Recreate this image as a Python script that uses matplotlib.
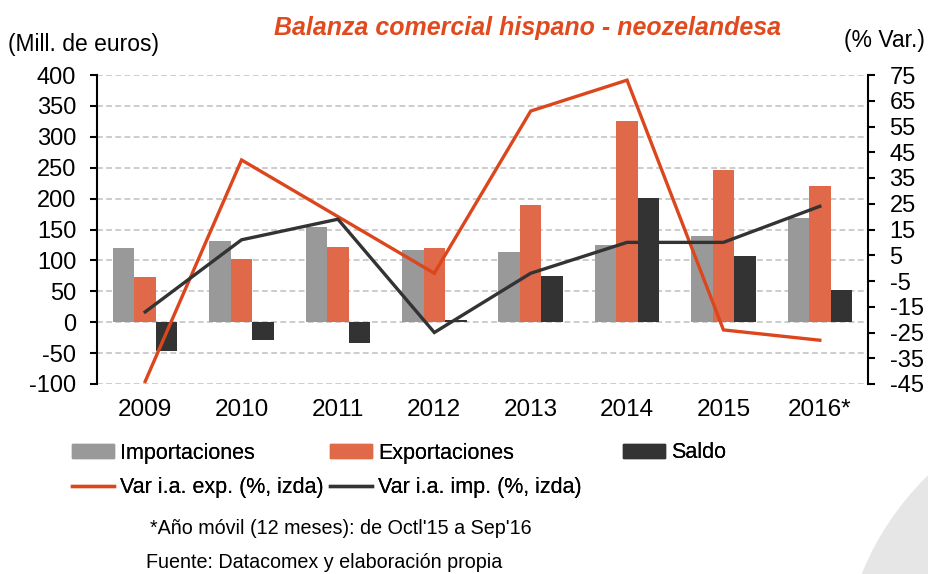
import numpy as np
import matplotlib
matplotlib.use("Agg")
import matplotlib.pyplot as plt
from matplotlib.patches import Circle, Patch
from matplotlib.lines import Line2D

plt.rcParams['font.family'] = ['Liberation Sans', 'DejaVu Sans']
plt.rcParams['axes.unicode_minus'] = False

# -----------------------------
# Data
# -----------------------------
years = ["2009", "2010", "2011", "2012", "2013", "2014", "2015", "2016*"]
importaciones = [120, 131, 154, 117, 114, 125, 140, 169]
exportaciones = [73, 102, 122, 120, 189, 326, 247, 221]
saldo = [-47, -29, -34, 3, 75, 201, 107, 52]
var_exp = [-44, 42, 20, -2, 61, 73, -24, -28]
var_imp = [-17, 11, 19, -25, -2, 10, 10, 24]

# -----------------------------
# Styles
# -----------------------------
C_IMP = "#999999"
C_EXP = "#E0694A"
C_SALDO = "#333333"
C_LINE_EXP = "#DC461C"
C_LINE_IMP = "#333333"
C_TITLE = "#E04A1E"

fig = plt.figure(figsize=(9.29, 5.74), dpi=100)
ax = fig.add_axes([97 / 929, 1 - 384 / 574, 771 / 929, 309 / 574])
ax2 = ax.twinx()

x = np.arange(len(years))
w = 0.223

ax.set_axisbelow(True)
for v in np.arange(-100, 401, 50):
    ax.axhline(v, color="#C4C4C4", lw=1.2, ls=(0, (3.5, 2)), zorder=0)

ax.bar(x - w, importaciones, w, color=C_IMP, zorder=2)
ax.bar(x, exportaciones, w, color=C_EXP, zorder=2)
ax.bar(x + w, saldo, w, color=C_SALDO, zorder=2)

ax2.plot(x, var_exp, color=C_LINE_EXP, lw=2.4, solid_joinstyle="miter")
ax2.plot(x, var_imp, color=C_LINE_IMP, lw=2.4, solid_joinstyle="miter")

ax.set_xlim(-0.5, len(years) - 0.5)
ax.set_ylim(-100, 400)
ax.set_yticks(np.arange(-100, 401, 50))
ax2.set_ylim(-45, 75)
ax2.set_yticks(np.arange(-45, 76, 10))

ax.set_xticks(x)
ax.set_xticklabels(years)

for a in (ax, ax2):
    for s in ("top", "bottom"):
        a.spines[s].set_visible(False)
ax.spines["right"].set_visible(False)
ax2.spines["left"].set_visible(False)
ax.spines["left"].set_linewidth(1.5)
ax2.spines["right"].set_linewidth(1.5)

ax.tick_params(axis="y", labelsize=17, length=5, width=1.5, pad=10)
ax2.tick_params(axis="y", labelsize=17, length=5, width=1.5, pad=10.5)
ax.tick_params(axis="x", labelsize=17.5, length=0, pad=11)

fig.text(527 / 929, 1 - 28 / 574, "Balanza comercial hispano - neozelandesa",
         color=C_TITLE, fontsize=18, fontweight="bold", style="italic",
         ha="center", va="center")
fig.text(8 / 929, 1 - 45 / 574, "(Mill. de euros)", fontsize=16.5,
         ha="left", va="center")
fig.text(925 / 929, 1 - 41 / 574, "(% Var.)", fontsize=16.5,
         ha="right", va="center")

# -----------------------------
# Legend, one entry per slot
# -----------------------------
entries = [
    (Patch(color=C_IMP), "Importaciones", 72, 453),
    (Patch(color=C_EXP), "Exportaciones", 330, 453),
    (Patch(color=C_SALDO), "Saldo", 623, 453),
    (Line2D([], [], color=C_LINE_EXP, lw=2.4), "Var i.a. exp. (%, izda)", 72, 488),
    (Line2D([], [], color=C_LINE_IMP, lw=2.4), "Var i.a. imp. (%, izda)", 330, 488),
]
for handle, label, px, py in entries:
    leg = fig.legend([handle], [label], loc="center left",
                     bbox_to_anchor=(px / 929, 1 - py / 574),
                     frameon=False, fontsize=15.5, handlelength=1.95,
                     handleheight=0.6, handletextpad=0.3,
                     borderpad=0, borderaxespad=0)
    fig.add_artist(leg)

fig.text(150 / 929, 1 - 529 / 574, "*Año móvil (12 meses): de Octl'15 a Sep'16",
         fontsize=14.2, ha="left", va="center")
fig.text(146 / 929, 1 - 562 / 574, "Fuente: Datacomex y elaboración propia",
         fontsize=14.2, ha="left", va="center")

# decorative grey arc, bottom right
fig.add_artist(Circle((11.30, -1.09), 2.89, transform=fig.dpi_scale_trans,
                      color="#E6E6E6", zorder=-10))

fig.savefig("out.png", dpi=100)
